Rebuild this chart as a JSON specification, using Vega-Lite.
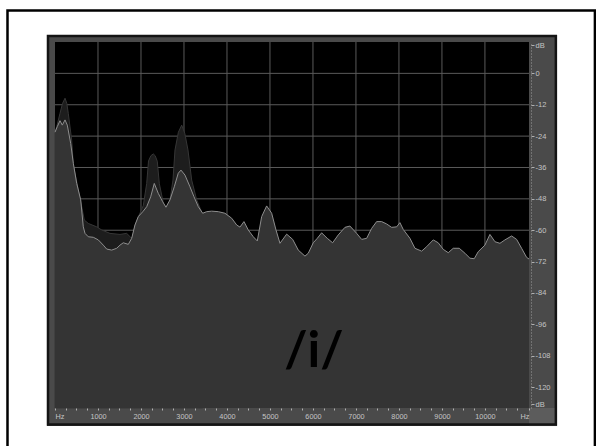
{
  "$schema": "https://vega.github.io/schema/vega-lite/v6.json",
  "width": 474,
  "height": 366,
  "autosize": {"type": "none"},
  "padding": {"left": 55, "top": 42, "right": 67, "bottom": 38},
  "background": "#ffffff",
  "config": {"view": {"stroke": null, "fill": "#000000"}, "axis": {"labelOverlap": false}},
  "datasets": {
    "light": [
      {"hz":0,"db":-22.5},{"hz":53,"db":-20.4},{"hz":116,"db":-18.1},{"hz":170,"db":-19.8},{"hz":233,"db":-17.8},{"hz":286,"db":-19.8},{"hz":365,"db":-26.8},{"hz":426,"db":-34.4},{"hz":505,"db":-42.1},{"hz":598,"db":-48.4},{"hz":658,"db":-58.7},{"hz":698,"db":-61.2},{"hz":774,"db":-62.5},{"hz":891,"db":-62.7},{"hz":1007,"db":-63.7},{"hz":1123,"db":-65.7},{"hz":1202,"db":-67.2},{"hz":1319,"db":-67.6},{"hz":1435,"db":-66.9},{"hz":1512,"db":-65.7},{"hz":1588,"db":-64.8},{"hz":1705,"db":-65.4},{"hz":1784,"db":-63.1},{"hz":1860,"db":-58.0},{"hz":1937,"db":-54.8},{"hz":2053,"db":-52.7},{"hz":2133,"db":-51.0},{"hz":2226,"db":-47.2},{"hz":2309,"db":-42.1},{"hz":2402,"db":-45.9},{"hz":2505,"db":-49.1},{"hz":2581,"db":-51.2},{"hz":2674,"db":-48.4},{"hz":2774,"db":-43.4},{"hz":2867,"db":-38.2},{"hz":2930,"db":-37.0},{"hz":3023,"db":-38.9},{"hz":3140,"db":-43.4},{"hz":3233,"db":-47.2},{"hz":3333,"db":-51.0},{"hz":3435,"db":-53.5},{"hz":3528,"db":-52.9},{"hz":3644,"db":-52.7},{"hz":3798,"db":-52.9},{"hz":3953,"db":-53.5},{"hz":4109,"db":-55.4},{"hz":4226,"db":-58.0},{"hz":4302,"db":-58.8},{"hz":4395,"db":-56.7},{"hz":4495,"db":-59.9},{"hz":4612,"db":-62.5},{"hz":4705,"db":-64.1},{"hz":4807,"db":-54.8},{"hz":4923,"db":-50.7},{"hz":5040,"db":-53.5},{"hz":5140,"db":-59.9},{"hz":5233,"db":-65.0},{"hz":5388,"db":-61.5},{"hz":5528,"db":-63.5},{"hz":5658,"db":-67.6},{"hz":5814,"db":-69.9},{"hz":5891,"db":-68.8},{"hz":6007,"db":-64.8},{"hz":6100,"db":-63.1},{"hz":6202,"db":-61.0},{"hz":6333,"db":-63.1},{"hz":6458,"db":-64.8},{"hz":6588,"db":-61.8},{"hz":6744,"db":-58.9},{"hz":6860,"db":-58.4},{"hz":7016,"db":-61.2},{"hz":7133,"db":-63.5},{"hz":7249,"db":-63.1},{"hz":7365,"db":-59.3},{"hz":7481,"db":-56.7},{"hz":7598,"db":-56.7},{"hz":7714,"db":-57.6},{"hz":7830,"db":-58.9},{"hz":7947,"db":-58.7},{"hz":8023,"db":-57.1},{"hz":8100,"db":-59.7},{"hz":8256,"db":-63.1},{"hz":8372,"db":-66.9},{"hz":8528,"db":-68.0},{"hz":8644,"db":-66.3},{"hz":8798,"db":-63.7},{"hz":8914,"db":-64.8},{"hz":9030,"db":-67.3},{"hz":9147,"db":-68.6},{"hz":9263,"db":-66.9},{"hz":9402,"db":-66.9},{"hz":9535,"db":-68.8},{"hz":9651,"db":-70.7},{"hz":9751,"db":-70.9},{"hz":9844,"db":-68.2},{"hz":10000,"db":-65.7},{"hz":10116,"db":-61.6},{"hz":10233,"db":-64.4},{"hz":10349,"db":-65.0},{"hz":10465,"db":-63.7},{"hz":10621,"db":-62.2},{"hz":10737,"db":-63.5},{"hz":10853,"db":-66.9},{"hz":10970,"db":-70.4},{"hz":11025,"db":-71.0}
    ],
    "dark": [
      {"hz":0,"db":-22.5},{"hz":40,"db":-20.4},{"hz":116,"db":-15.3},{"hz":175,"db":-11.5},{"hz":233,"db":-9.5},{"hz":275,"db":-11.5},{"hz":309,"db":-15.3},{"hz":388,"db":-25.5},{"hz":426,"db":-35.0},{"hz":542,"db":-44.6},{"hz":621,"db":-51.0},{"hz":681,"db":-56.1},{"hz":774,"db":-57.4},{"hz":970,"db":-58.7},{"hz":1086,"db":-59.9},{"hz":1279,"db":-61.2},{"hz":1512,"db":-61.6},{"hz":1667,"db":-61.2},{"hz":1760,"db":-62.7},{"hz":1800,"db":-63.0},{"hz":1860,"db":-58.2},{"hz":1937,"db":-55.0},{"hz":2053,"db":-50.6},{"hz":2133,"db":-42.1},{"hz":2175,"db":-33.5},{"hz":2230,"db":-31.5},{"hz":2286,"db":-30.8},{"hz":2330,"db":-31.5},{"hz":2379,"db":-33.6},{"hz":2426,"db":-42.1},{"hz":2519,"db":-49.6},{"hz":2581,"db":-51.4},{"hz":2674,"db":-48.6},{"hz":2744,"db":-40.8},{"hz":2791,"db":-29.3},{"hz":2870,"db":-22.5},{"hz":2947,"db":-19.8},{"hz":3020,"db":-23.0},{"hz":3093,"db":-29.3},{"hz":3179,"db":-40.8},{"hz":3295,"db":-48.4},{"hz":3372,"db":-51.5},{"hz":3435,"db":-53.8}
    ]
  },
  "layer": [
    {
      "data": {"values": [{}]},
      "mark": {"type": "rect", "fill": "#ffffff", "fillOpacity": 0, "stroke": "#000000", "strokeWidth": 2.5},
      "encoding": {
        "x": {"datum": -1105, "type": "quantitative",
          "scale": {"domain": [0, 11025], "nice": false, "zero": false},
          "axis": {
            "title": null, "orient": "bottom", "grid": false, "domain": false, "zindex": 2, "tickCount": 1000,
            "values": [0,250,500,750,1000,1250,1500,1750,2000,2250,2500,2750,3000,3250,3500,3750,4000,4250,4500,4750,5000,5250,5500,5750,6000,6250,6500,6750,7000,7250,7500,7750,8000,8250,8500,8750,9000,9250,9500,9750,10000,10250,10500,10750,11025],
            "labelExpr": "datum.value === 0 || datum.value > 11010 ? 'Hz' : (datum.value % 1000 === 0 ? '' + datum.value : '')",
            "labelFlush": true, "labelOverlap": false, "labelBound": false,
            "labelFont": "Liberation Sans", "labelFontSize": 7.3, "labelColor": "#c4c4c4", "labelPadding": 2,
            "ticks": true, "tickSize": 2, "tickColor": "#b0b0b0", "tickWidth": 1
          }
        },
        "x2": {"datum": 12558},
        "y": {"datum": 24.05, "type": "quantitative",
          "scale": {"domain": [-128, 12], "nice": false, "zero": false},
          "axis": {
            "title": null, "orient": "right", "grid": false, "zindex": 2, "offset": 2, "tickCount": 1000,
            "domain": true, "domainColor": "#9a9a9a", "domainDash": [1, 2], "domainWidth": 1,
            "values": [10.85, 0, -12, -24, -36, -48, -60, -72, -84, -96, -108, -120, -126.5],
            "labelExpr": "datum.value > 6 || datum.value < -123 ? 'dB' : '' + datum.value",
            "labelOverlap": false, "labelBound": false, "labelFlush": false,
            "labelFont": "Liberation Sans", "labelFontSize": 7.5, "labelColor": "#c4c4c4", "labelPadding": 1,
            "tickSize": 3, "tickColor": "#b0b0b0", "tickWidth": 1
          }
        },
        "y2": {"datum": -144.1}
      }
    },
    {
      "data": {"values": [{}]},
      "mark": {"type": "rect", "fill": "#4a4a4a"},
      "encoding": {
        "x": {"datum": -186, "type": "quantitative"}, "x2": {"datum": 0},
        "y": {"datum": 14.68, "type": "quantitative"}, "y2": {"datum": -134.9}
      }
    },
    {
      "data": {"values": [{}]},
      "mark": {"type": "rect", "fill": "#4a4a4a"},
      "encoding": {
        "x": {"datum": -186, "type": "quantitative"}, "x2": {"datum": 11674},
        "y": {"datum": 14.68, "type": "quantitative"}, "y2": {"datum": 12}
      }
    },
    {
      "data": {"values": [{}]},
      "mark": {"type": "rect", "fill": "#4a4a4a"},
      "encoding": {
        "x": {"datum": 11025, "type": "quantitative"}, "x2": {"datum": 11674},
        "y": {"datum": 14.68, "type": "quantitative"}, "y2": {"datum": -134.9}
      }
    },
    {
      "data": {"values": [{}]},
      "mark": {"type": "rect", "fill": "#4a4a4a"},
      "encoding": {
        "x": {"datum": -186, "type": "quantitative"}, "x2": {"datum": 11674},
        "y": {"datum": -128, "type": "quantitative"}, "y2": {"datum": -134.9}
      }
    },
    {
      "data": {"values": [{}]},
      "mark": {"type": "rect", "fill": "#5c5c5c"},
      "encoding": {
        "x": {"datum": 11025, "type": "quantitative"}, "x2": {"datum": 11674},
        "y": {"datum": -128, "type": "quantitative"}, "y2": {"datum": -134.9}
      }
    },
    {
      "data": {"values": [{}]},
      "mark": {"type": "rect", "fill": "#ffffff", "fillOpacity": 0, "stroke": "#141414", "strokeWidth": 2.5},
      "encoding": {
        "x": {"datum": -163, "type": "quantitative"}, "x2": {"datum": 11650},
        "y": {"datum": 14.3, "type": "quantitative"}, "y2": {"datum": -134.3}
      }
    },
    {
      "data": {"values": [{"hz":1000},{"hz":2000},{"hz":3000},{"hz":4000},{"hz":5000},{"hz":6000},{"hz":7000},{"hz":8000},{"hz":9000},{"hz":10000}]},
      "mark": {"type": "rule", "color": "#5a5a5a", "strokeWidth": 1},
      "encoding": {"x": {"field": "hz", "type": "quantitative"}}
    },
    {
      "data": {"values": [{"db":0},{"db":-12},{"db":-24},{"db":-36},{"db":-48},{"db":-60},{"db":-72},{"db":-84},{"db":-96},{"db":-108},{"db":-120}]},
      "mark": {"type": "rule", "color": "#5a5a5a", "strokeWidth": 1},
      "encoding": {"y": {"field": "db", "type": "quantitative"}}
    },
    {
      "data": {"name": "dark"},
      "mark": {"type": "area", "fill": "#1d1d1d", "stroke": "#363636", "strokeWidth": 1},
      "encoding": {
        "x": {"field": "hz", "type": "quantitative"},
        "y": {"field": "db", "type": "quantitative"},
        "y2": {"datum": -128}
      }
    },
    {
      "data": {"name": "light"},
      "mark": {"type": "area", "fill": "#343434"},
      "encoding": {
        "x": {"field": "hz", "type": "quantitative"},
        "y": {"field": "db", "type": "quantitative"},
        "y2": {"datum": -128}
      }
    },
    {
      "data": {"name": "light"},
      "mark": {"type": "line", "color": "#8e8e8e", "strokeWidth": 1},
      "encoding": {
        "x": {"field": "hz", "type": "quantitative"},
        "y": {"field": "db", "type": "quantitative"}
      }
    },
    {
      "data": {"values": [{}]},
      "mark": {"type": "text", "text": "/i/", "font": "Lato", "fontWeight": "bold", "fontSize": 50, "color": "#000000", "align": "center", "baseline": "alphabetic"},
      "encoding": {
        "x": {"datum": 6023, "type": "quantitative"},
        "y": {"datum": -112.3, "type": "quantitative"}
      }
    }
  ]
}
